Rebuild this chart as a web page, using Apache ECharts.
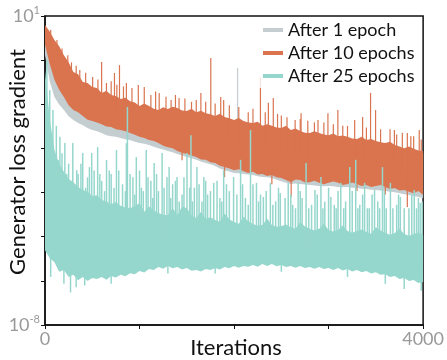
<!DOCTYPE html>
<html>
<head>
<meta charset="utf-8">
<script src="https://cdn.jsdelivr.net/npm/echarts@6/dist/echarts.min.js"></script>
<style>
  html, body { margin: 0; padding: 0; background: #fff; }
  #chart { width: 447px; height: 360px; }
</style>
</head>
<body>
<div id="chart"></div>
<script>
const iters100 = [0, 100, 200, 300, 400, 500, 600, 700, 800, 900, 1000, 1100, 1200, 1300, 1400,
  1500, 1600, 1700, 1800, 1900, 2000, 2100, 2200, 2300, 2400, 2500, 2600, 2700, 2800, 2900, 3000,
  3100, 3200, 3300, 3400, 3500, 3600, 3700, 3800, 3900, 4000];
const iters50 = [0, 50, 100, 150, 200, 250, 300, 350, 400, 450,
  500, 550, 600, 650, 700, 750, 800, 850, 900, 950,
  1000, 1050, 1100, 1150, 1200, 1250, 1300, 1350, 1400, 1450,
  1500, 1550, 1600, 1650, 1700, 1750, 1800, 1850, 1900, 1950,
  2000, 2050, 2100, 2150, 2200, 2250, 2300, 2350, 2400, 2450,
  2500, 2550, 2600, 2650, 2700, 2750, 2800, 2850, 2900, 2950,
  3000, 3050, 3100, 3150, 3200, 3250, 3300, 3350, 3400, 3450,
  3500, 3550, 3600, 3650, 3700, 3750, 3800, 3850, 3900, 3950,
  4000];

// all values are log10 of the gradient
const epoch1High = [0.60, 0.10, -0.35, -0.80, -1.05, -1.20, -1.35, -1.45, -1.55, -1.60, -1.72, -1.75, -1.85, -1.85,
  -1.85, -1.90, -1.95, -1.98, -2.05, -2.10, -2.15, -2.20, -2.25, -2.30, -2.35, -2.40, -2.45, -2.50, -2.55, -2.55,
  -2.60, -2.62, -2.65, -2.70, -2.72, -2.75, -2.80, -2.85, -2.90, -2.95, -3.00];
const epoch1Low = [
  -0.14, -0.90, -1.36, -1.58, -1.74, -1.92, -2.03, -2.12, -2.18, -2.26,
  -2.32, -2.36, -2.41, -2.47, -2.50, -2.52, -2.55, -2.59, -2.61, -2.66,
  -2.70, -2.72, -2.76, -2.81, -2.85, -2.89, -2.93, -2.97, -3.02, -3.06,
  -3.11, -3.14, -3.19, -3.24, -3.28, -3.32, -3.37, -3.44, -3.49, -3.53,
  -3.57, -3.58, -3.60, -3.62, -3.63, -3.67, -3.69, -3.70, -3.72, -3.77,
  -3.81, -3.86, -3.89, -3.88, -3.89, -3.91, -3.92, -3.94, -3.95, -3.96,
  -3.95, -3.96, -3.98, -3.99, -3.98, -4.00, -4.01, -4.03, -4.04, -4.06,
  -4.07, -4.08, -4.10, -4.12, -4.13, -4.16, -4.19, -4.21, -4.24, -4.27,
  -4.30];
const epoch1Spikes = [[120, -0.30], [300, -0.90], [2037, -0.51]];

const epoch10High = [
  0.74, 0.55, 0.30, 0.12, -0.14, -0.35, -0.63, -0.70, -0.92, -0.95,
  -1.07, -1.10, -1.24, -1.18, -1.30, -1.33, -1.42, -1.38, -1.48, -1.52,
  -1.62, -1.55, -1.62, -1.70, -1.74, -1.66, -1.71, -1.64, -1.68, -1.75,
  -1.77, -1.70, -1.80, -1.76, -1.83, -1.86, -1.91, -1.85, -1.94, -1.98,
  -2.03, -1.97, -2.06, -2.10, -2.12, -2.08, -2.20, -2.15, -2.20, -2.25,
  -2.26, -2.20, -2.32, -2.28, -2.35, -2.40, -2.41, -2.36, -2.41, -2.45,
  -2.47, -2.42, -2.50, -2.48, -2.52, -2.57, -2.58, -2.52, -2.61, -2.58,
  -2.64, -2.68, -2.70, -2.66, -2.76, -2.80, -2.85, -2.80, -2.87, -2.92,
  -2.93];
const epoch10Low = [
  0.16, -0.40, -0.86, -1.15, -1.36, -1.60, -1.74, -1.80, -1.91, -2.02,
  -2.06, -2.10, -2.15, -2.22, -2.23, -2.30, -2.32, -2.36, -2.41, -2.46,
  -2.52, -2.55, -2.61, -2.64, -2.70, -2.78, -2.82, -2.85, -2.93, -2.98,
  -3.02, -3.06, -3.11, -3.18, -3.19, -3.26, -3.28, -3.36, -3.40, -3.44,
  -3.49, -3.46, -3.52, -3.57, -3.54, -3.62, -3.60, -3.66, -3.63, -3.70,
  -3.72, -3.78, -3.84, -3.76, -3.78, -3.85, -3.84, -3.80, -3.86, -3.90,
  -3.86, -3.82, -3.86, -3.92, -3.89, -3.85, -3.89, -3.95, -3.92, -3.98,
  -3.95, -3.92, -3.98, -4.04, -4.01, -4.08, -4.07, -4.12, -4.16, -4.10,
  -4.21];
const epoch10Spikes = [[60, 0.60], [126, 0.30], [180, 0.05], [241, -0.14], [280, -0.35], [330, -0.45],
  [368, -0.57], [430, -0.65], [504, -0.78], [560, -0.85], [599, -0.34], [650, -0.95], [700, -0.90],
  [735, -0.66], [760, -1.00], [788, -0.43], [830, -1.05], [861, -0.95], [920, -1.10], [987, -1.01],
  [1050, -1.07], [1120, -1.30], [1170, -1.20], [1208, -1.24], [1280, -1.35], [1334, -1.45], [1380, -1.30],
  [1418, -1.39], [1480, -1.40], [1550, -1.50], [1600, -1.45], [1649, -1.24], [1700, -1.50], [1754, -0.22],
  [1800, -1.55], [1859, -1.36], [1890, -1.45], [1950, -1.60], [2050, -1.65], [2150, -1.80], [2200, -1.70],
  [2279, -0.78], [2330, -1.80], [2363, -1.53], [2415, -1.39], [2460, -1.85], [2500, -1.90], [2560, -1.95],
  [2646, -2.03], [2700, -2.00], [2709, -1.83], [2780, -2.05], [2850, -2.10], [2888, -2.03], [2950, -2.10],
  [2993, -1.83], [3050, -2.15], [3098, -1.74], [3150, -2.20], [3200, -2.20], [3276, -2.03], [3360, -1.94],
  [3400, -2.25], [3444, -1.24], [3497, -1.74], [3550, -2.30], [3650, -2.30], [3696, -2.32], [3720, -2.45],
  [3780, -2.40], [3833, -2.41], [3870, -2.50], [3900, -2.50], [3959, -2.32], [3980, -2.60],
  [1450, -3.20], [1900, -3.70], [2400, -3.90], [2604, -4.27], [3300, -4.10], [3600, -4.20], [3833, -4.56]];

const epoch25High = [
  -0.57, -2.00, -2.90, -3.30, -3.54, -3.75, -3.84, -3.98, -4.07, -4.12,
  -4.24, -4.22, -4.36, -4.40, -4.48, -4.42, -4.53, -4.58, -4.59, -4.55,
  -4.45, -4.70, -4.55, -4.66, -4.74, -4.79, -4.80, -4.60, -4.80, -4.55,
  -4.60, -4.81, -4.88, -4.70, -4.91, -4.86, -4.94, -4.99, -4.75, -4.92,
  -5.00, -5.05, -4.85, -4.98, -5.06, -5.11, -5.09, -4.90, -5.09, -5.14,
  -5.12, -5.07, -5.15, -5.20, -5.00, -5.13, -5.20, -5.25, -5.20, -5.05,
  -5.23, -5.28, -5.23, -5.10, -5.26, -5.31, -5.26, -5.22, -5.29, -5.34,
  -5.15, -5.25, -5.32, -5.37, -5.32, -5.20, -5.35, -5.40, -5.35, -5.31,
  -5.38];
const epoch25Low = [
  -5.82, -6.05, -6.17, -6.45, -6.40, -6.60, -6.54, -6.70, -6.60, -6.72,
  -6.63, -6.66, -6.60, -6.68, -6.57, -6.62, -6.54, -6.58, -6.49, -6.52,
  -6.43, -6.47, -6.37, -6.40, -6.31, -6.36, -6.28, -6.35, -6.31, -6.38,
  -6.34, -6.42, -6.40, -6.44, -6.37, -6.40, -6.34, -6.38, -6.31, -6.35,
  -6.28, -6.33, -6.28, -6.30, -6.25, -6.30, -6.22, -6.28, -6.22, -6.29,
  -6.25, -6.31, -6.28, -6.33, -6.28, -6.34, -6.31, -6.36, -6.31, -6.37,
  -6.34, -6.40, -6.34, -6.41, -6.37, -6.44, -6.40, -6.46, -6.43, -6.50,
  -6.46, -6.54, -6.52, -6.60, -6.57, -6.66, -6.63, -6.72, -6.69, -6.78,
  -6.75];
const epoch25Spikes = [[20, -0.28], [50, -1.16], [84, -1.74], [120, -2.20], [140, -3.20], [158, -2.52],
  [180, -3.00], [210, -2.70], [230, -3.60], [250, -3.30], [294, -2.70], [336, -3.49], [350, -3.60],
  [380, -3.30], [399, -2.99], [430, -4.00], [450, -3.70], [470, -3.40], [494, -2.99], [520, -3.50],
  [557, -2.82], [580, -3.60], [600, -3.80], [630, -4.10], [651, -3.19], [680, -3.50], [700, -3.60],
  [730, -4.00], [756, -2.90], [780, -3.50], [820, -3.90], [850, -4.10], [861, -2.70], [872, -1.65],
  [900, -3.60], [930, -3.70], [950, -4.20], [966, -3.11], [1000, -3.50], [1020, -4.00], [1040, -4.10],
  [1071, -2.90], [1090, -3.70], [1120, -3.80], [1140, -4.30], [1155, -3.28], [1180, -3.60], [1200, -4.10],
  [1239, -2.99], [1260, -4.00], [1290, -3.70], [1313, -3.40], [1330, -4.30], [1350, -3.90], [1380, -3.80],
  [1397, -3.69], [1420, -4.40], [1450, -4.20], [1470, -3.70], [1502, -2.99], [1530, -4.00], [1544, -2.47],
  [1560, -4.40], [1580, -4.00], [1607, -3.40], [1630, -3.90], [1660, -4.40], [1680, -3.69], [1700, -3.80],
  [1720, -4.20], [1750, -4.10], [1785, -3.86], [1820, -3.80], [1850, -4.30], [1870, -4.40], [1890, -3.49],
  [1920, -3.90], [1950, -4.10], [1995, -3.69], [2030, -4.20], [2069, -3.19], [2090, -3.90], [2120, -4.30],
  [2150, -4.50], [2174, -2.32], [2200, -3.90], [2237, -3.86], [2260, -4.40], [2280, -4.20], [2310, -4.27],
  [2340, -4.10], [2384, -3.86], [2410, -4.50], [2440, -4.40], [2470, -4.00], [2489, -4.16], [2540, -4.30],
  [2573, -3.86], [2600, -4.20], [2620, -4.50], [2650, -4.60], [2678, -3.86], [2700, -4.10], [2720, -4.30],
  [2762, -3.28], [2790, -4.60], [2820, -4.50], [2856, -4.07], [2880, -4.20], [2919, -3.69], [2940, -4.60],
  [2960, -4.40], [3000, -4.00], [3024, -4.27], [3060, -4.50], [3080, -4.60], [3100, -4.10], [3129, -3.86],
  [3160, -4.60], [3180, -4.40], [3224, -3.40], [3250, -4.10], [3287, -3.19], [3310, -4.60], [3330, -4.50],
  [3360, -4.20], [3381, -3.86], [3410, -4.60], [3430, -4.60], [3460, -4.20], [3486, -4.07], [3520, -4.40],
  [3540, -4.60], [3570, -3.40], [3590, -4.10], [3610, -4.60], [3654, -3.86], [3680, -4.60], [3720, -4.50],
  [3740, -4.20], [3759, -4.27], [3800, -4.60], [3850, -4.60], [3880, -4.20], [3906, -4.07], [3930, -4.60],
  [3950, -4.30], [3969, -4.45], [3990, -4.40],
  [60, -6.60], [200, -6.80], [270, -7.05], [330, -6.90], [420, -6.85], [700, -6.80], [1300, -6.50],
  [1800, -6.50], [2500, -6.45], [3200, -6.60], [3600, -6.80], [3800, -6.95], [3980, -7.00]];

const seriesNames = ['After 1 epoch', 'After 10 epochs', 'After 25 epochs'];
const seriesColors = ['#c4cdd0', '#d9744f', '#96d7cd'];
const xTickLabels = [0, 4000];
const yTickLabels = [1, -8];

function bandSeries(name, color, highIters, high, lowIters, low) {
  return {
    name: name,
    type: 'custom',
    clip: true,
    itemStyle: { color: color },
    data: [[highIters[0], Math.pow(10, high[0])]],
    renderItem: function (params, api) {
      const top = highIters.map((it, i) => api.coord([it, Math.pow(10, high[i])]));
      const bottom = lowIters.map((it, i) => api.coord([it, Math.pow(10, low[i])])).reverse();
      return { type: 'polygon', shape: { points: top.concat(bottom) }, style: { fill: color } };
    }
  };
}

// vertical spikes, drawn from the middle of the band to the peak
function spikeSeries(name, color, width, spikes, highIters, high, lowIters, low) {
  const hs = highIters[1] - highIters[0];
  const ls = lowIters[1] - lowIters[0];
  return {
    name: name,
    type: 'custom',
    clip: true,
    itemStyle: { color: color },
    data: spikes.map(function (s) {
      const mid = (high[Math.round(s[0] / hs)] + low[Math.round(s[0] / ls)]) / 2;
      return [s[0], Math.pow(10, s[1]), Math.pow(10, mid)];
    }),
    renderItem: function (params, api) {
      const a = api.coord([api.value(0), api.value(1)]);
      const b = api.coord([api.value(0), api.value(2)]);
      return {
        type: 'line',
        shape: { x1: a[0], y1: a[1], x2: b[0], y2: b[1] },
        style: { stroke: color, lineWidth: width }
      };
    }
  };
}

const chart = echarts.init(document.getElementById('chart'));

chart.setOption({
  animation: false,
  textStyle: { fontFamily: 'Lato' },
  grid: { left: 45, right: 21, top: 16, bottom: 35, show: true, borderColor: '#111', borderWidth: 1.5 },
  legend: {
    orient: 'vertical',
    left: 259,
    top: 18,
    itemWidth: 20,
    itemHeight: 4,
    itemGap: 3,
    padding: [2, 4],
    backgroundColor: 'rgba(255,255,255,0.8)',
    textStyle: { fontFamily: 'Lato', fontSize: 18, color: '#111', lineHeight: 20 },
    data: seriesNames.map(function (n) { return { name: n, icon: 'rect' }; })
  },
  xAxis: {
    type: 'value',
    min: 0,
    max: 4000,
    interval: 1000,
    axisLine: { lineStyle: { color: '#111', width: 1.5 } },
    axisTick: { show: true, length: 4, lineStyle: { color: '#111' } },
    axisLabel: {
      margin: 5,
      color: '#999',
      fontSize: 18,
      fontFamily: 'Lato',
      formatter: function (v) { return xTickLabels.indexOf(v) >= 0 ? String(v) : ''; }
    },
    splitLine: { show: false }
  },
  yAxis: [{
    type: 'log',
    logBase: 10,
    min: 1e-8,
    max: 10,
    interval: 1,
    axisLine: { show: true, lineStyle: { color: '#111', width: 1.5 } },
    axisTick: { show: false },
    splitLine: { show: false },
    axisLabel: {
      margin: 5,
      color: '#999',
      formatter: function (v) {
        const p = Math.round(Math.log10(v));
        return yTickLabels.indexOf(p) >= 0 ? '{b|10}{s|' + p + '}' : '';
      },
      rich: {
        b: { fontSize: 18, fontFamily: 'Lato', color: '#999', lineHeight: 22 },
        s: { fontSize: 11, fontFamily: 'Lato', color: '#999', verticalAlign: 'top', lineHeight: 22 }
      }
    }
  }, {
    type: 'value',
    min: 0,
    max: 7,
    interval: 1,
    position: 'left',
    axisLine: { show: false },
    axisTick: { show: true, length: 4, lineStyle: { color: '#111' } },
    axisLabel: { show: false },
    splitLine: { show: false }
  }],
  graphic: [{
    type: 'text',
    x: 18,
    y: 162,
    rotation: Math.PI / 2,
    style: {
      text: 'Generator loss gradient',
      font: '22px Lato',
      fill: '#111',
      align: 'center',
      verticalAlign: 'middle'
    }
  }, {
    type: 'text',
    x: 236,
    y: 348,
    style: {
      text: 'Iterations',
      font: '22px Lato',
      fill: '#111',
      align: 'center',
      verticalAlign: 'middle'
    }
  }],
  series: [
    bandSeries(seriesNames[0], seriesColors[0], iters100, epoch1High, iters50, epoch1Low),
    spikeSeries('spikes1', seriesColors[0], 1.2, epoch1Spikes, iters100, epoch1High, iters50, epoch1Low),
    bandSeries(seriesNames[1], seriesColors[1], iters50, epoch10High, iters50, epoch10Low),
    spikeSeries('spikes10', seriesColors[1], 1.2, epoch10Spikes, iters50, epoch10High, iters50, epoch10Low),
    bandSeries(seriesNames[2], seriesColors[2], iters50, epoch25High, iters50, epoch25Low),
    spikeSeries('spikes25', seriesColors[2], 1.5, epoch25Spikes, iters50, epoch25High, iters50, epoch25Low)
  ]
});
</script>
</body>
</html>
